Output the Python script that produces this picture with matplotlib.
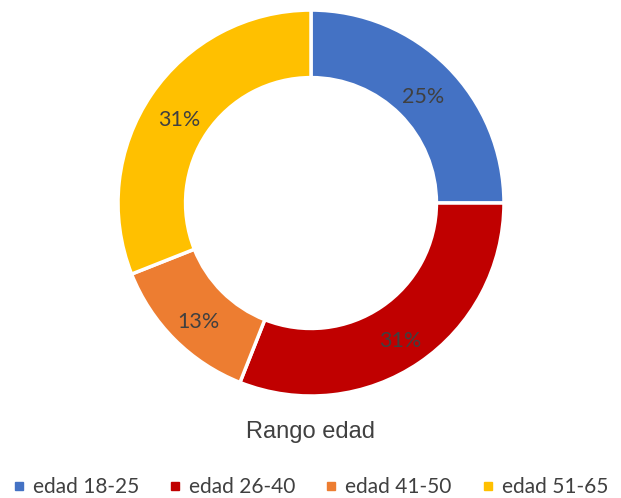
import matplotlib
matplotlib.use("Agg")
import matplotlib.pyplot as plt
import numpy as np
from matplotlib.lines import Line2D

# age-range share of respondents
categories = ["edad 18-25", "edad 26-40", "edad 41-50", "edad 51-65"]
shares = [25, 31, 13, 31]
colors = ["#4472C4", "#C00000", "#ED7D31", "#FFC000"]
title = "Rango edad"

text_color = "#404040"

fig = plt.figure(figsize=(6.21, 4.98), dpi=100)
ax = fig.add_axes([0.19, 0.2048, 0.6216, 0.775])

wedges, _ = ax.pie(
    shares,
    colors=colors,
    startangle=90,
    counterclock=False,
    radius=1.0,
    wedgeprops=dict(width=0.35, edgecolor="white", linewidth=2.5),
)

# percentage labels in the middle of the ring, nudged slightly down
for w, val in zip(wedges, shares):
    ang = np.deg2rad((w.theta1 + w.theta2) / 2)
    r = 0.825
    ax.text(r * np.cos(ang), r * np.sin(ang) - 0.035, f"{val}%",
            ha="center", va="center", fontsize=15.5, color=text_color,
            family="Lato")

ax.set_xlim(-1, 1)
ax.set_ylim(-1, 1)
ax.set_aspect("equal")
ax.axis("off")

fig.text(0.5, 1 - 432 / 498, title, ha="center", va="center",
         fontsize=17, color=text_color, family="Liberation Sans")

handles = [Line2D([], [], marker="s", linestyle="none", markersize=6,
                  markerfacecolor=c, markeredgecolor=c) for c in colors]
fig.legend(handles, categories, loc="center", bbox_to_anchor=(0.5, 1 - 487 / 498),
           ncol=4, frameon=False, handlelength=0.55, handletextpad=0.4,
           columnspacing=1.45, prop=dict(family="Lato", size=15),
           labelcolor=text_color)

fig.savefig("out.png", dpi=100)
